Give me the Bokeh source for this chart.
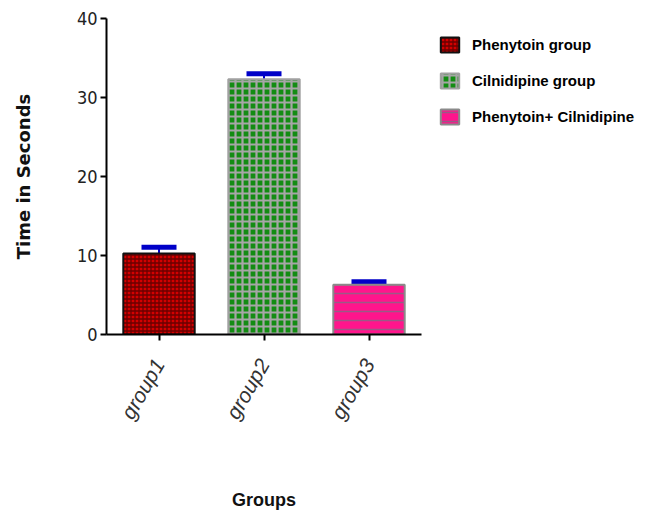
import math
from bokeh.plotting import figure
from bokeh.models import ColumnDataSource, Whisker, TeeHead, Legend, LegendItem, FactorRange
from bokeh.embed import file_html
from bokeh.resources import INLINE

# ---- data ----
groups = ["group1", "group2", "group3"]
means = [10.25, 32.3, 6.3]
errors = [0.8, 0.7, 0.37]
series_names = ["Phenytoin group", "Cilnidipine group", "Phenytoin+ Cilnidipine"]
y_ticks = [0, 10, 20, 30, 40]

# ---- styles ----
fills = ["#d40000", "#138c13", "#ff158c"]
hatches = ["cross", "cross", "horizontal_line"]
hatch_colors = ["#6a0000", "#a6a6a6", "#9a5a86"]
hatch_scales = [4, 7, 9]
hatch_weights = [1.3, 2.2, 1.5]
outlines = ["#111111", "#a0a0a0", "#8a8a8a"]

NARROW = "DejaVu Sans Condensed"
LEG_FONT = "Liberation Sans"

p = figure(x_range=FactorRange(*groups), y_range=(0, 40),
           width=640, height=501, frame_width=315, frame_height=316,
           output_backend="svg", toolbar_location=None,
           min_border_left=106, min_border_right=219, min_border_top=18,
           min_border_bottom=167)
p.outline_line_color = None
p.xgrid.visible = False
p.ygrid.visible = False
p.x_range.range_padding = 0

renderers = []
for i, g in enumerate(groups):
    src = ColumnDataSource(dict(x=[g], top=[means[i]]))
    r = p.vbar(x="x", top="top", width=0.68, source=src,
               fill_color=fills[i], line_color=outlines[i], line_width=2,
               hatch_pattern=hatches[i], hatch_color=hatch_colors[i],
               hatch_scale=hatch_scales[i], hatch_weight=hatch_weights[i])
    renderers.append(r)

err_src = ColumnDataSource(dict(x=groups, lower=means,
                                upper=[m + e for m, e in zip(means, errors)]))
wh = Whisker(base="x", lower="lower", upper="upper", source=err_src,
             dimension="height", line_color="#0000c8", line_width=2,
             upper_head=TeeHead(size=35, line_color="#0000c8", line_width=5),
             lower_head=None)
p.add_layout(wh)

# axes
for ax in (p.xaxis, p.yaxis):
    ax.axis_line_width = 2
    ax.axis_line_color = "black"
    ax.major_tick_line_width = 2
    ax.major_tick_line_color = "black"
    ax.major_tick_out = 6
    ax.major_tick_in = 0
    ax.minor_tick_line_color = None

p.yaxis.ticker = y_ticks
p.yaxis.major_label_text_font = NARROW
p.yaxis.major_label_text_font_size = "18px"
p.yaxis.major_label_text_color = "#222222"
p.yaxis.major_label_standoff = 3
p.yaxis.axis_label = "Time in Seconds"
p.yaxis.axis_label_text_font = "DejaVu Sans"
p.yaxis.axis_label_text_font_style = "bold"
p.yaxis.axis_label_text_font_size = "18px"
p.yaxis.axis_label_text_color = "#111111"
p.yaxis.axis_label_standoff = 40

p.xaxis.major_label_orientation = math.radians(60)
p.xaxis.major_label_text_font = "Liberation Sans"
p.xaxis.major_label_text_font_style = "italic"
p.xaxis.major_label_text_font_size = "21px"
p.xaxis.major_label_text_color = "#333333"
p.xaxis.major_label_standoff = 20
p.xaxis.axis_label = "Groups"
p.xaxis.axis_label_text_font = LEG_FONT
p.xaxis.axis_label_text_font_style = "bold"
p.xaxis.axis_label_text_font_size = "18px"
p.xaxis.axis_label_text_color = "#111111"
p.xaxis.axis_label_standoff = 58

items = [LegendItem(label=series_names[i], renderers=[renderers[i]]) for i in range(3)]
legend = Legend(items=items, location="top_left", orientation="vertical",
                glyph_width=23, glyph_height=19, label_height=19,
                spacing=17, label_standoff=11, padding=0, margin=17,
                border_line_color=None, background_fill_alpha=0,
                label_text_font=LEG_FONT, label_text_font_style="bold",
                label_text_font_size="15px", label_text_color="#000000")
p.add_layout(legend, "right")

open("out.html", "w").write(file_html(p, INLINE))
